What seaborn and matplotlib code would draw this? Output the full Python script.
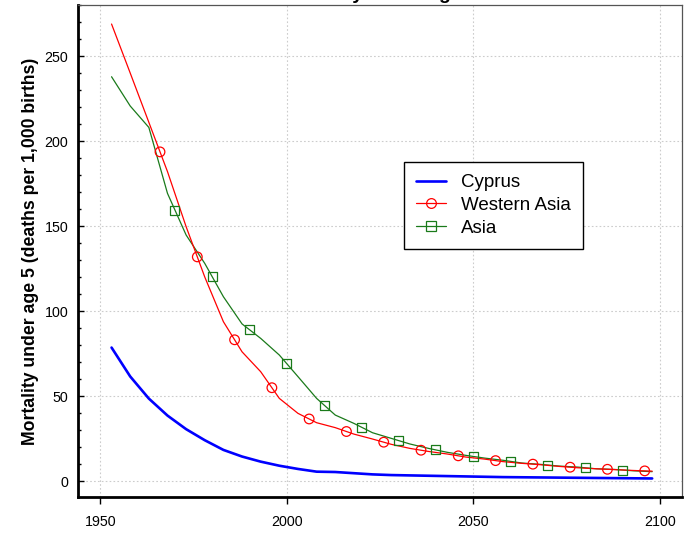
import numpy as np
import pandas as pd
import matplotlib
matplotlib.use("Agg")
import matplotlib.pyplot as plt
import seaborn as sns
from matplotlib.lines import Line2D
from matplotlib.ticker import MultipleLocator

years = [1953, 1958, 1963, 1968, 1973, 1978, 1983, 1988, 1993, 1998,
         2003, 2008, 2013, 2018, 2023, 2028, 2033, 2038, 2043, 2048,
         2053, 2058, 2063, 2068, 2073, 2078, 2083, 2088, 2093, 2098]
cyprus = [78.5, 61.5, 48.5, 38.5, 30.5, 24.0, 18.3, 14.4, 11.4, 9.0,
          7.1, 5.5, 5.3, 4.6, 3.9, 3.5, 3.3, 3.1, 2.9, 2.7,
          2.5, 2.3, 2.2, 2.1, 2.0, 1.9, 1.8, 1.7, 1.6, 1.5]
western_asia = [268.8, 240.0, 211.0, 182.0, 149.6, 120.0, 93.7, 76.0, 64.3, 48.6,
                39.8, 34.3, 31.4, 27.6, 24.7, 21.6, 19.2, 17.4, 15.9, 14.1,
                12.9, 11.4, 10.4, 9.6, 8.6, 7.8, 7.2, 6.7, 6.2, 5.8]
asia = [237.8, 220.6, 208.0, 169.2, 144.7, 128.0, 108.4, 92.4, 83.9, 74.1,
        61.4, 48.6, 38.8, 33.9, 28.4, 25.1, 21.8, 19.2, 16.9, 15.1,
        13.5, 12.2, 10.6, 9.8, 8.8, 8.2, 7.2, 6.8, 6.0, 5.5]
series_names = ["Cyprus", "Western Asia", "Asia"]
wa_marker_years = [1966, 1976, 1986, 1996, 2006, 2016, 2026, 2036, 2046, 2056, 2066, 2076, 2086, 2096]
asia_marker_years = [1970, 1980, 1990, 2000, 2010, 2020, 2030, 2040, 2050, 2060, 2070, 2080, 2090]
x_ticks = [1950, 2000, 2050, 2100]
y_ticks = [0, 50, 100, 150, 200, 250]
title = "Mortality under age 5"
ylabel = "Mortality under age 5 (deaths per 1,000 births)"

sns.set_theme(style="white")
plt.rcParams["font.family"] = ["Liberation Sans", "DejaVu Sans"]
plt.rcParams["text.color"] = "black"
plt.rcParams["axes.labelcolor"] = "black"
plt.rcParams["xtick.color"] = "black"
plt.rcParams["ytick.color"] = "black"

colors = {"Cyprus": "#0000ff", "Western Asia": "#ff0000", "Asia": "#1a7a1a"}

df = pd.DataFrame({
    "year": years * 3,
    "value": cyprus + western_asia + asia,
    "region": [series_names[0]] * len(years) + [series_names[1]] * len(years) + [series_names[2]] * len(years),
})

fig = plt.figure(figsize=(6.95, 5.33), dpi=100)
ax = fig.add_axes([78 / 695, 1 - 497 / 533, (682 - 78) / 695, (497 - 5) / 533])

for name, lw, z in [("Asia", 0.9, 3), ("Western Asia", 0.9, 4), ("Cyprus", 1.9, 5)]:
    sub = df[df["region"] == name]
    sns.lineplot(data=sub, x="year", y="value", color=colors[name], linewidth=lw,
                 ax=ax, zorder=z, legend=False)

wa_mk = pd.DataFrame({"year": wa_marker_years,
                      "value": np.interp(wa_marker_years, years, western_asia)})
as_mk = pd.DataFrame({"year": asia_marker_years,
                      "value": np.interp(asia_marker_years, years, asia)})
sns.scatterplot(data=as_mk, x="year", y="value", marker="s", s=42, facecolor="none",
                edgecolor=colors["Asia"], linewidth=0.9, ax=ax, zorder=6, legend=False)
sns.scatterplot(data=wa_mk, x="year", y="value", marker="o", s=48, facecolor="none",
                edgecolor=colors["Western Asia"], linewidth=0.9, ax=ax, zorder=6, legend=False)

ax.set_xlim(1944, 2106)
ax.set_ylim(-9.4, 280)
ax.set_xticks(x_ticks)
ax.set_xticklabels([str(t) for t in x_ticks])
ax.set_yticks(y_ticks)
ax.set_yticklabels([str(t) for t in y_ticks])
ax.yaxis.set_minor_locator(MultipleLocator(10))
ax.grid(True, which="major", color="#cccccc", linestyle=(0, (1.5, 2)), linewidth=0.8)
ax.set_axisbelow(True)

ax.tick_params(axis="y", which="major", direction="in", length=4.5, width=1, color="black",
               labelcolor="black", labelsize=10.3, pad=7, left=True)
ax.tick_params(axis="y", which="minor", direction="in", length=2.5, width=1, color="black", left=True)
ax.tick_params(axis="x", which="major", direction="out", length=5, width=1, color="black",
               labelcolor="black", labelsize=10.3, pad=8, bottom=True)
for side in ["left", "bottom"]:
    ax.spines[side].set_color("black")
    ax.spines[side].set_linewidth(2)
for side in ["top", "right"]:
    ax.spines[side].set_color("#555555")
    ax.spines[side].set_linewidth(0.9)

ax.set_xlabel("")
ax.set_ylabel(ylabel, fontsize=12.7, fontweight="bold", labelpad=4, color="black")

handles = [
    Line2D([], [], color=colors["Cyprus"], linewidth=1.9),
    Line2D([], [], color=colors["Western Asia"], linewidth=0.9, marker="o", markersize=7,
           markerfacecolor="none", markeredgewidth=0.9),
    Line2D([], [], color=colors["Asia"], linewidth=0.9, marker="s", markersize=6.5,
           markerfacecolor="none", markeredgewidth=0.9),
]
leg = ax.legend(handles, series_names, loc="upper left", bbox_to_anchor=(0.540, 0.681),
                borderaxespad=0, fontsize=13.5, frameon=True, fancybox=False,
                edgecolor="black", framealpha=1, handlelength=1.6, handletextpad=0.8,
                labelspacing=0.3, borderpad=0.65)
leg.get_frame().set_linewidth(1.0)
for t in leg.get_texts():
    t.set_color("black")

fig.text(0.547, 1.002, title, ha="center", va="baseline", fontsize=14, fontweight="bold",
         color="black")

fig.savefig("out.png", dpi=100)
